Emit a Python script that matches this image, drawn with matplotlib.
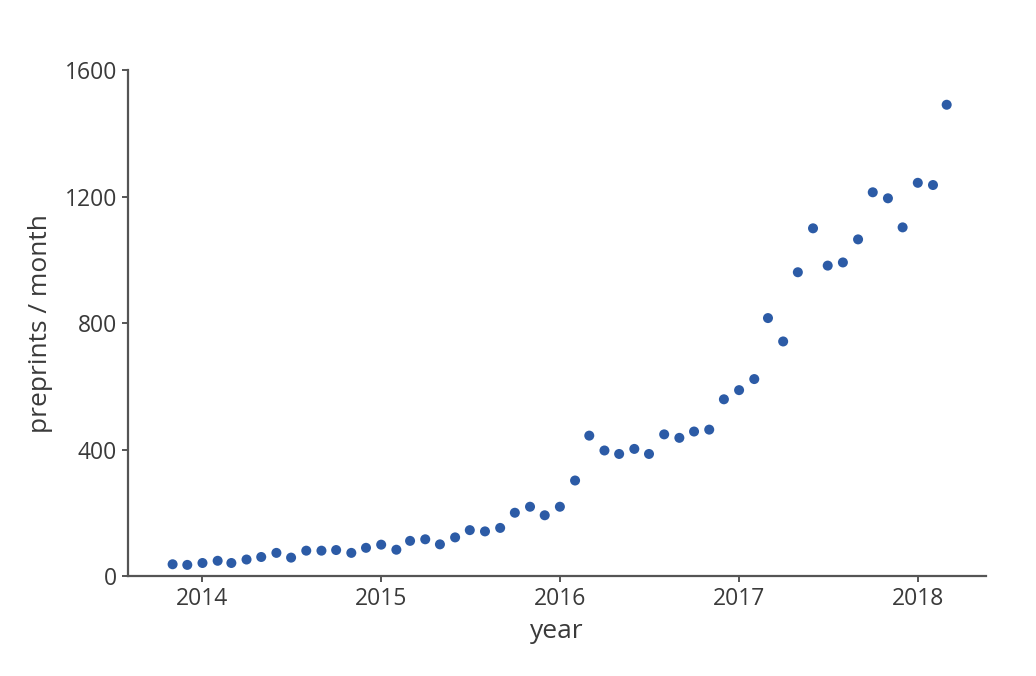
import pandas as pd
import matplotlib.pyplot as plt
import matplotlib.dates as mdates

# Monthly preprint counts, Nov 2013 - Mar 2018
start_month = '2013-11-01'
preprints = [
    37, 35,                                                      # 2013
    41, 48, 41, 52, 60, 73, 58, 80, 80, 82, 73, 89,              # 2014
    99, 83, 111, 116, 100, 122, 145, 141, 152, 200, 219, 192,    # 2015
    219, 302, 444, 397, 386, 402, 386, 448, 437, 457, 463, 559,  # 2016
    588, 623, 816, 742, 961, 1100, 982, 992, 1065, 1214, 1195, 1103,  # 2017
    1244, 1237, 1491,                                            # 2018
]
months = pd.date_range(start_month, periods=len(preprints), freq='MS')

plt.rcParams['font.family'] = ['Open Sans', 'DejaVu Sans']

fig = plt.figure(figsize=(10.36, 6.76), dpi=100)
ax = fig.add_axes([0.1236, 0.148, 0.828, 0.748])

ax.scatter(months, preprints, s=52, color='#2c5ba6', edgecolors='none', zorder=3)

ax.set_xlim(pd.Timestamp('2013-08-02'), pd.Timestamp('2018-05-20'))
ax.set_ylim(0, 1600)
ax.set_yticks([0, 400, 800, 1200, 1600])
ax.xaxis.set_major_locator(mdates.YearLocator())
ax.xaxis.set_major_formatter(mdates.DateFormatter('%Y'))

for side in ['top', 'right']:
    ax.spines[side].set_visible(False)
for side in ['left', 'bottom']:
    ax.spines[side].set_linewidth(1.6)
    ax.spines[side].set_color('#555555')

ax.tick_params(length=4, width=1.4, color='#555555', labelsize=16.5,
               labelcolor='#3a3a3a', pad=4)
ax.set_xlabel('year', fontsize=19, color='#3a3a3a', labelpad=6)
ax.set_ylabel('preprints / month', fontsize=19, color='#3a3a3a', labelpad=8)

fig.savefig('out.png', dpi=100)
